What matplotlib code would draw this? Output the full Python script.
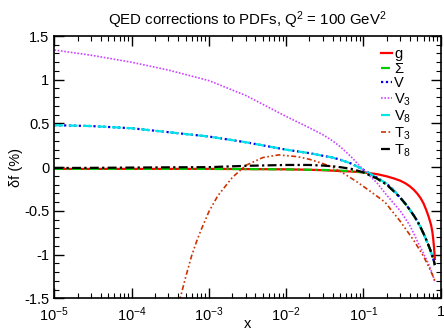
import matplotlib
matplotlib.use("Agg")
import matplotlib.pyplot as plt
from matplotlib.ticker import FixedLocator, NullFormatter

plt.rcParams['font.family'] = ['Liberation Sans', 'DejaVu Sans']
plt.rcParams['mathtext.fontset'] = 'custom'
plt.rcParams['mathtext.rm'] = 'Liberation Sans'
plt.rcParams['mathtext.it'] = 'Liberation Sans:italic'
plt.rcParams['mathtext.bf'] = 'Liberation Sans:bold'
plt.rcParams['mathtext.sf'] = 'Liberation Sans'

# ---- data ----
x_common = [1e-5, 3e-5, 1e-4, 3e-4, 1e-3, 3e-3, 1e-2, 2e-2, 3e-2, 4e-2, 5e-2, 0.07, 0.1,
            0.15, 0.2, 0.25, 0.3, 0.35, 0.4, 0.45, 0.5, 0.55, 0.6, 0.65, 0.7, 0.75,
            0.78, 0.8, 0.82, 0.84]
g_vals = [-0.02, -0.02, -0.02, -0.02, -0.02, -0.022, -0.025, -0.03, -0.035, -0.04, -0.045, -0.05, -0.06,
          -0.08, -0.105, -0.13, -0.155, -0.185, -0.22, -0.26, -0.305, -0.355, -0.415, -0.49, -0.57, -0.66,
          -0.74, -0.82, -0.92, -1.05]
sigma_vals = [-0.02, -0.02, -0.02, -0.02, -0.02, -0.022, -0.025, -0.03, -0.032, -0.035, -0.04, -0.045, -0.06,
              -0.13, -0.2, -0.28, -0.35, -0.42, -0.49, -0.555, -0.62, -0.69, -0.76, -0.83, -0.90, -0.97,
              -1.02, -1.05, -1.08, -1.12]
v_vals = [0.48, 0.47, 0.445, 0.40, 0.35, 0.285, 0.20, 0.16, 0.13, 0.11, 0.085, 0.04, -0.03,
          -0.12, -0.19, -0.27, -0.35, -0.42, -0.49, -0.555, -0.62, -0.69, -0.76, -0.83, -0.90, -0.97,
          -1.02, -1.05, -1.08, -1.12]
v3_vals = [1.34, 1.28, 1.20, 1.11, 0.99, 0.82, 0.58, 0.45, 0.37, 0.30, 0.235, 0.115, -0.03,
           -0.18, -0.32, -0.42, -0.50, -0.59, -0.67, -0.76, -0.85, -0.92, -0.99, -1.05, -1.11, -1.18,
           -1.22, -1.25, -1.28, -1.31]
v8_vals = [0.48, 0.47, 0.445, 0.40, 0.35, 0.285, 0.20, 0.16, 0.13, 0.11, 0.085, 0.04, -0.03,
           -0.12, -0.19, -0.27, -0.35, -0.42, -0.49, -0.555, -0.62, -0.69, -0.76, -0.83, -0.90, -0.97,
           -1.02, -1.05, -1.08, -1.12]
t8_vals = [-0.01, -0.008, -0.005, -0.002, 0.0, 0.015, 0.025, 0.025, 0.018, 0.01, 0.0, -0.02, -0.06,
           -0.13, -0.2, -0.28, -0.35, -0.42, -0.49, -0.555, -0.62, -0.69, -0.76, -0.83, -0.90, -0.97,
           -1.02, -1.05, -1.08, -1.12]

x_t3 = [4.0e-4, 4.4e-4, 5e-4, 6e-4, 7e-4, 8e-4, 1e-3, 1.3e-3, 2e-3, 3e-3, 5e-3, 8e-3,
        1.4e-2, 2e-2, 3e-2, 4e-2, 5.5e-2, 8e-2, 0.12, 0.19, 0.3, 0.45, 0.6, 0.7, 0.78, 0.84]
t3_vals = [-1.58, -1.45, -1.26, -1.01, -0.84, -0.71, -0.51, -0.33, -0.12, 0.02, 0.11, 0.14,
           0.12, 0.09, 0.04, 0.0, -0.07, -0.16, -0.27, -0.40, -0.62, -0.84, -1.02, -1.14, -1.23, -1.30]

labels = ['g', r'$\Sigma$', 'V', r'V$_3$', r'V$_8$', r'T$_3$', r'T$_8$']
xtick_vals = [1e-5, 1e-4, 1e-3, 1e-2, 1e-1, 1]
xtick_labels = [r'10$^{-5}$', r'10$^{-4}$', r'10$^{-3}$', r'10$^{-2}$', r'10$^{-1}$', '1']
ytick_vals = [-1.5, -1, -0.5, 0, 0.5, 1, 1.5]
ytick_labels = ['-1.5', '-1', '-0.5', '0', '0.5', '1', '1.5']

# ---- figure ----
fig = plt.figure(figsize=(4.44, 3.30), dpi=100)
ax = fig.add_axes([54.3/444, 1-298.3/330, (440.7-54.3)/444, (298.3-36)/330])

ax.plot(x_common, g_vals, color='#ff0000', lw=1.6, ls='-', label=labels[0])
ax.plot(x_common, sigma_vals, color='#00cc00', lw=1.6, ls=(0, (4, 1.5, 1, 1.5)), label=labels[1])
ax.plot(x_common, v_vals, color='#0000ee', lw=1.6, ls=(0, (1, 1.2)), label=labels[2])
ax.plot(x_common, v3_vals, color='#cc44ff', lw=1.2, ls=(0, (1, 1)), label=labels[3])
ax.plot(x_common, v8_vals, color='#00e5e5', lw=1.6, ls=(0, (4, 2.5)), label=labels[4])
ax.plot(x_t3, t3_vals, color='#cc3300', lw=1.2, ls=(0, (3, 1.5, 1, 1.5, 1, 1.5)), label=labels[5])
ax.plot(x_common, t8_vals, color='#000000', lw=1.6, ls=(0, (4, 1.5, 1, 1.5)), label=labels[6])

ax.set_xscale('log')
ax.set_xlim(1e-5, 1)
ax.set_ylim(-1.5, 1.5)

ax.xaxis.set_major_locator(FixedLocator(xtick_vals))
ax.set_xticklabels(xtick_labels)
ax.xaxis.set_minor_locator(FixedLocator(
    [m * 10.0**e for e in range(-5, 0) for m in range(2, 10)]))
ax.xaxis.set_minor_formatter(NullFormatter())
ax.yaxis.set_major_locator(FixedLocator(ytick_vals))
ax.set_yticklabels(ytick_labels)
ax.yaxis.set_minor_locator(FixedLocator([i / 10 for i in range(-15, 16)]))

ax.tick_params(which='both', direction='in', top=True, right=True, labelsize=10.5)
ax.tick_params(axis='x', which='major', pad=5)
ax.tick_params(which='major', length=7, width=1)
ax.tick_params(which='minor', length=3.5, width=0.8)
for s in ax.spines.values():
    s.set_linewidth(1.2)

ax.set_title(r'QED corrections to PDFs, Q$^2$ = 100 GeV$^2$', fontsize=10.8, pad=8)
ax.set_xlabel('x', fontsize=10.5, labelpad=-5)
ax.set_ylabel('δf (%)', fontsize=10.5, labelpad=1)

leg = ax.legend(loc='upper left', bbox_to_anchor=(0.845, 0.958), frameon=False,
                borderpad=0, borderaxespad=0, handlelength=0.75, handletextpad=0.15,
                labelspacing=0.05, fontsize=10.5)

fig.savefig('out.png', dpi=100)
